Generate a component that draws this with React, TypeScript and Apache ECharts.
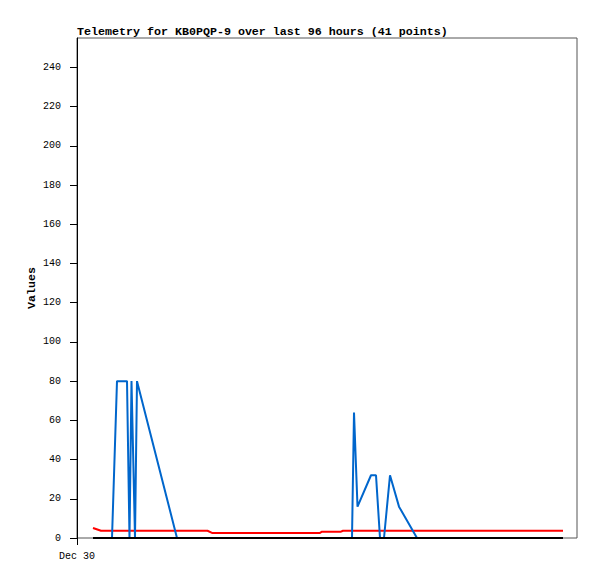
import React, { useEffect, useRef } from "react";
import * as echarts from "echarts";

const TITLE = "Telemetry for KB0PQP-9 over last 96 hours (41 points)";
const Y_NAME = "Values";
const X_LABEL = "Dec 30";

// hours since Dec 30 00:00
const hours = [3.2, 4.8, 7.0, 8.0, 10.0, 10.5, 10.9, 11.6, 12.0, 20.0, 26.1, 27.0, 48.6, 49.0, 52.8, 53.2, 55.0, 55.4, 56.1, 58.8, 59.8, 60.6, 61.4, 62.6, 64.4, 68.0, 97.2];
const blueValues = [0, 0, 0, 80, 80, 0, 80, 0, 80, 0, 0, 0, 0, 0, 0, 0, 0, 64, 16, 32, 32, 0, 0, 32, 16, 0, 0];
const redValues = [5.1, 3.7, 3.7, 3.7, 3.7, 3.7, 3.7, 3.7, 3.7, 3.7, 3.7, 2.6, 2.6, 3.2, 3.2, 3.7, 3.7, 3.7, 3.7, 3.7, 3.7, 3.7, 3.7, 3.7, 3.7, 3.7, 3.7];
const blackValues = [0, 0, 0, 0, 0, 0, 0, 0, 0, 0, 0, 0, 0, 0, 0, 0, 0, 0, 0, 0, 0, 0, 0, 0, 0, 0, 0];
const yTicks = [0, 20, 40, 60, 80, 100, 120, 140, 160, 180, 200, 220, 240];
const xTicks = [0];

const BOLD_FONT = "'Liberation Mono', 'DejaVu Sans Mono', monospace";
const LABEL_FONT = "'Liberation Mono', 'DejaVu Sans Mono', monospace";

function pairs(vals: number[]) {
  return hours.map((h, i) => [h, vals[i]]);
}

export default function App() {
  const ref = useRef<HTMLDivElement>(null);
  useEffect(() => {
    const chart = echarts.init(ref.current!, null, { renderer: "svg" });
    chart.setOption({
      animation: false,
      backgroundColor: "#ffffff",
      title: {
        text: TITLE,
        left: 77,
        top: 26,
        padding: 0,
        textStyle: { fontFamily: BOLD_FONT, fontSize: 11.67, fontWeight: "bold", color: "#000" },
      },
      grid: {
        left: 77,
        right: 20,
        top: 38,
        bottom: 41,
        show: true,
        borderColor: "#555",
        borderWidth: 1,
        backgroundColor: "transparent",
      },
      xAxis: {
        type: "value",
        min: 0,
        max: 100,
        axisLine: { show: false },
        splitLine: { show: false },
        axisTick: { show: true, customValues: xTicks, length: 7, lineStyle: { color: "#000" } },
        axisLabel: {
          customValues: xTicks,
          formatter: () => X_LABEL,
          margin: 13,
          color: "#000",
          fontFamily: LABEL_FONT,
          fontSize: 10,
        },
      },
      yAxis: {
        type: "value",
        min: 0,
        max: 255,
        name: Y_NAME,
        nameLocation: "middle",
        nameRotate: 90,
        nameGap: 39,
        nameMoveOverlap: false,
        nameTextStyle: { fontFamily: BOLD_FONT, fontSize: 11.67, fontWeight: "bold", color: "#000" },
        axisLine: { show: true, lineStyle: { color: "#000", width: 1 } },
        splitLine: { show: false },
        axisTick: { show: true, customValues: yTicks, length: 7, lineStyle: { color: "#000" } },
        axisLabel: {
          customValues: yTicks,
          margin: 16,
          color: "#000",
          fontFamily: LABEL_FONT,
          fontSize: 10,
        },
      },
      series: [
        {
          type: "line",
          name: "red",
          data: pairs(redValues),
          symbol: "none",
          lineStyle: { color: "#ff0000", width: 2 },
          z: 2,
        },
        {
          type: "line",
          name: "blue",
          data: pairs(blueValues),
          symbol: "none",
          lineStyle: { color: "#0066cc", width: 2 },
          z: 3,
        },
        {
          type: "line",
          name: "black",
          data: pairs(blackValues),
          symbol: "none",
          lineStyle: { color: "#000000", width: 2 },
          z: 4,
        },
      ],
    });
    return () => chart.dispose();
  }, []);
  return (
    <div
      ref={ref}
      style={{ position: "fixed", left: 0, top: 0, width: 597, height: 579, background: "#fff" }}
    />
  );
}
